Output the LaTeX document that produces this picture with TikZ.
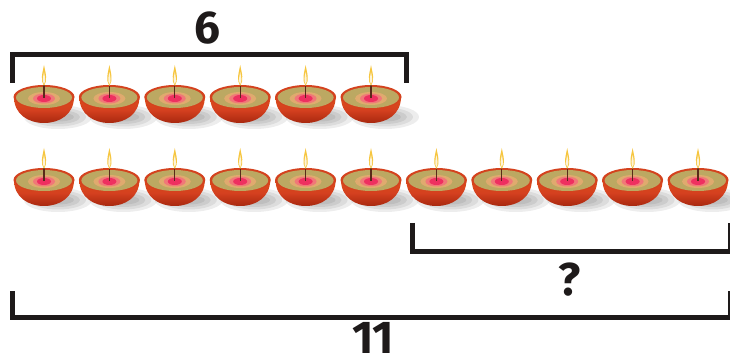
\documentclass[tikz,border=0pt]{standalone}
\usepackage{fontspec}
\setmainfont{Fira Sans}
\usepackage{tikz}
\usetikzlibrary{positioning}
\definecolor{bolrouge}{HTML}{D4401F}
\definecolor{bolfonce}{HTML}{A8280F}
\definecolor{bordlampe}{HTML}{D4421E}
\definecolor{huile}{HTML}{BCA862}
\definecolor{huileclair}{HTML}{E0AA6E}
\definecolor{fleur}{HTML}{EE3060}
\definecolor{fleurclair}{HTML}{F07878}
\definecolor{flamme}{HTML}{F6C640}
\definecolor{meche}{HTML}{5A2A1A}
\definecolor{trait}{HTML}{1E1A1A}

\begin{document}
\begin{tikzpicture}[x=1pt,y=-1pt]
% définition des paramètres
\tikzstyle crochet=[color=trait,line width=5pt,line join=miter]
\tikzstyle nombre=[text=trait,inner sep=0pt,font=\fontsize{46}{46}\selectfont\bfseries]
\tikzstyle ombre=[fill=black,opacity=0.07]
\newcommand{\lampx}{44}    % abscisse de la première lampe
\newcommand{\lampdx}{65.4} % écart entre deux lampes
\newcommand{\rangA}{97}    % ordonnée du bord, rangée du haut
\newcommand{\rangB}{180}   % ordonnée du bord, rangée du bas
\newcommand{\ombrelampe}[2]{%
  \foreach \k in {0,1,2,3}
    \fill[ombre] ({#1+14},{#2+20}) ellipse [x radius={34-6*\k},y radius={12-2.5*\k}];}
\newcommand{\lampe}[2]{%
  \begin{scope}[shift={(#1,#2)}]
    % le bol
    \shade[top color=bolrouge!80!orange,bottom color=bolfonce,middle color=bolrouge]
      (-30,0) .. controls (-30,17) and (-16,26) .. (0,26)
      .. controls (16,26) and (30,17) .. (30,0) -- cycle;
    % le bord et l'huile
    \fill[bordlampe] (0,0) ellipse [x radius=30.5,y radius=12];
    \fill[huile] (0,0.5) ellipse [x radius=28,y radius=10.5];
    \fill[huileclair] (0,1.5) ellipse [x radius=16,y radius=6.5];
    \fill[fleurclair] (0,1.5) ellipse [x radius=11,y radius=5];
    \fill[fleur] (0,1.5) ellipse [x radius=7,y radius=3.5];
    % la mèche et la flamme
    \draw[meche,line width=1.2pt] (0,1) -- (0,-12);
    \fill[flamme] (0,-32) .. controls (1.5,-24) and (4,-17) .. (0,-11)
      .. controls (-4,-17) and (-1.5,-24) .. (0,-32);
    \fill[white,opacity=0.8] (0,-25) .. controls (1,-20) and (2,-16) .. (0,-13)
      .. controls (-2,-16) and (-1,-20) .. (0,-25);
  \end{scope}}
\useasboundingbox (0,0) rectangle (730,363);
% les ombres
\foreach \i in {0,...,5}
  {\ombrelampe{\lampx+\i*\lampdx}{\rangA}}
\foreach \i in {0,...,10}
  {\ombrelampe{\lampx+\i*\lampdx}{\rangB}}
% les lampes
\foreach \i in {0,...,5}
  {\lampe{\lampx+\i*\lampdx}{\rangA}}
\foreach \i in {0,...,10}
  {\lampe{\lampx+\i*\lampdx}{\rangB}}
% les crochets
\coordinate (hautg) at (12,83);
\coordinate (hautd) at (406,83);
\coordinate (milg) at (412,223);
\coordinate (mild) at (730,223);
\coordinate (basg) at (12,291);
\coordinate (basd) at (730,291);
\draw[crochet] (hautg) -- (hautg |- 0,54.5) -- (hautd |- 0,54.5) -- (hautd);
\draw[crochet] (milg) -- (milg |- 0,251.5) -- (mild |- 0,251.5) -- (mild);
\draw[crochet] (basg) -- (basg |- 0,317.5) -- (basd |- 0,317.5) -- (basd);
% les nombres
\node[nombre] (six) at (207,28) {6};
\node[nombre] (question) at (570,280) {?};
\node[nombre] (onze) at (373,338) {11};
\end{tikzpicture}
\end{document}
